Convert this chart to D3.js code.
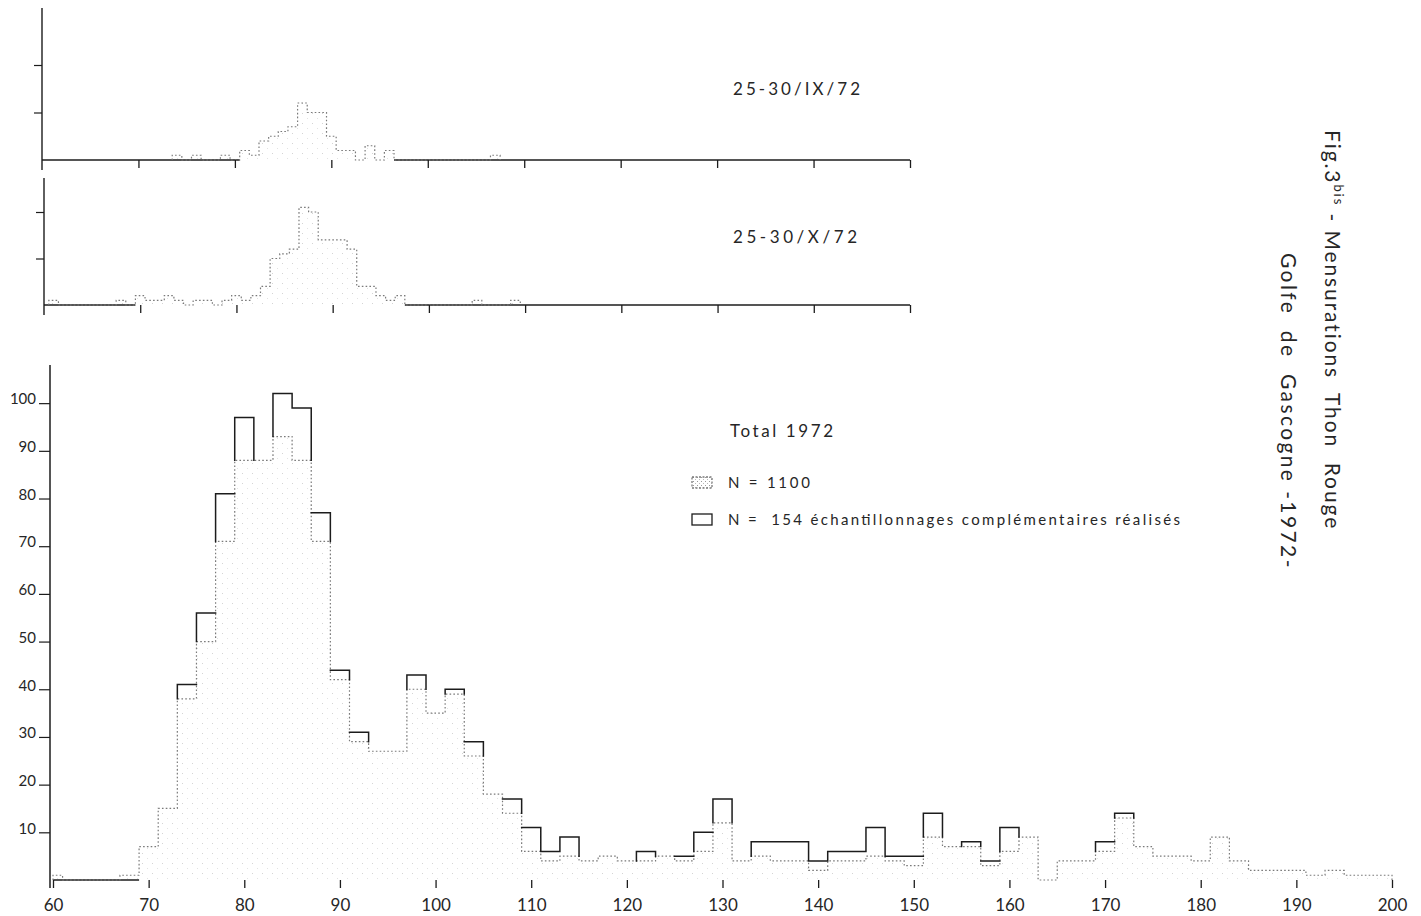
<!DOCTYPE html>
<html>
<head>
<meta charset="utf-8">
<script src="https://cdn.jsdelivr.net/npm/d3@7"></script>
<style>
  html, body { margin: 0; padding: 0; background: #fff; }
  svg { display: block; }
  text { font-family: Lato, "DejaVu Sans", sans-serif; fill: #262626; white-space: pre; }
</style>
</head>
<body>
<svg id="fig" width="1421" height="916"></svg>
<script>
// ---- Total 1972: 2 cm length classes (class centre, cm) ----
const totalClasses = d3.range(60, 201, 2);
// main sample, N = 1100 (stippled)
const countsN1100 = [1, 0, 0, 0, 1, 7, 15, 38, 50, 71, 88, 88, 93, 88, 71, 42, 29, 27, 27, 40,
                     35, 39, 26, 18, 14, 6, 4, 5, 4, 5, 4, 4, 5, 4, 6, 12, 4, 5, 4, 4,
                     2, 4, 4, 5, 4, 3, 9, 7, 7, 3, 6, 9, 0, 4, 4, 6, 13, 7, 5, 5,
                     4, 9, 4, 2, 2, 2, 1, 2, 1, 1, 1];
// complementary samplings, N = 154 (open, stacked on top)
const countsN154 = [0, 0, 0, 0, 0, 0, 0, 3, 6, 10, 9, 0, 9, 11, 6, 2, 2, 0, 0, 3,
                    0, 1, 3, 0, 3, 5, 2, 4, 0, 0, 0, 2, 0, 1, 4, 5, 0, 3, 4, 4,
                    2, 2, 2, 6, 1, 2, 5, 0, 1, 1, 5, 0, 0, 0, 0, 2, 1, 0, 0, 0,
                    0, 0, 0, 0, 0, 0, 0, 0, 0, 0, 0];

// ---- 25-30/IX/72: 1 cm classes ----
const classesIX = [74, 76, 79, 81, 82, 83, 84, 85, 86, 87, 88, 89, 90, 91, 92, 94, 96, 107];
const countsIX  = [1, 1, 1, 2, 1, 4, 5, 6, 7, 12, 10, 10, 5, 2, 2, 3, 2, 1];

// ---- 25-30/X/72: 1 cm classes ----
const classesX = [61, 68, 70, 71, 72, 73, 74, 76, 77, 79, 80, 81, 82, 83, 84, 85, 86, 87, 88,
                  89, 90, 91, 92, 93, 94, 95, 96, 97, 105, 109];
const countsX  = [1, 1, 2, 1, 1, 2, 1, 1, 1, 1, 2, 1, 2, 4, 10, 11, 12, 21, 20,
                  14, 14, 14, 12, 4, 4, 2, 1, 2, 1, 1];

// axis ticks
const mainTicksX = d3.range(60, 201, 10);
const mainTicksY = d3.range(10, 101, 10);
const panelTicksX = d3.range(60, 151, 10);
const panelTicksY = [10, 20];

const svg = d3.select("#fig");
const INK = "#1c1c1c";
const GREY = "#7a7a7a";

// sparse stipple used for the N = 1100 histograms
const defs = svg.append("defs");
const pat = defs.append("pattern")
  .attr("id", "stipple").attr("patternUnits", "userSpaceOnUse")
  .attr("width", 10).attr("height", 10);
pat.append("rect").attr("x", 2).attr("y", 3).attr("width", 1).attr("height", 1).attr("fill", "#d4d4d4");
pat.append("rect").attr("x", 7).attr("y", 8).attr("width", 1).attr("height", 1).attr("fill", "#e2e2e2");
// denser stipple for the legend swatch
const pat2 = defs.append("pattern")
  .attr("id", "stippleKey").attr("patternUnits", "userSpaceOnUse")
  .attr("width", 4).attr("height", 4);
pat2.append("rect").attr("x", 1).attr("y", 1).attr("width", 1).attr("height", 1).attr("fill", "#999");
pat2.append("rect").attr("x", 3).attr("y", 3).attr("width", 1).attr("height", 1).attr("fill", "#bbb");

// bins -> outline points of a step histogram
function stepPoints(bins) {
  const pts = [];
  bins.forEach((b, i) => {
    const prev = bins[i - 1];
    if (!prev) pts.push([b.x0, 0]);
    else if (prev.x1 !== b.x0) { pts.push([prev.x1, 0]); pts.push([b.x0, 0]); }
    pts.push([b.x0, b.v]); pts.push([b.x1, b.v]);
  });
  pts.push([bins[bins.length - 1].x1, 0]);
  return pts;
}

// stippled histogram with dotted outline, plus baseline (solid outside the bulk of the data)
function drawShaded(g, bins, x, y, domain, endMin) {
  const line = d3.line().x(d => x(d[0])).y(d => y(d[1]));
  const pts = stepPoints(bins);
  g.append("path").attr("d", line(pts) + "Z")
    .attr("fill", "url(#stipple)").attr("stroke", "none");
  // baseline
  const first = bins.find(b => b.v >= 2);
  const last = bins.filter(b => b.v >= endMin).pop();
  const a = first.x0, b = last.x1;
  g.append("line").attr("x1", x(domain[0])).attr("x2", x(a)).attr("y1", y(0)).attr("y2", y(0))
    .attr("stroke", INK).attr("stroke-width", 1.3);
  if (b < domain[1]) {
    g.append("line").attr("x1", x(b)).attr("x2", x(domain[1])).attr("y1", y(0)).attr("y2", y(0))
      .attr("stroke", INK).attr("stroke-width", 1.3);
  }
  g.append("path").attr("d", line(pts))
    .attr("fill", "none").attr("stroke", GREY).attr("stroke-width", 1.2)
    .attr("stroke-dasharray", "1.6 2.2");
}

// ---------- small panels ----------
function panel(opts) {
  const x = d3.scaleLinear().domain([60, 150]).range(opts.xr);
  const y = d3.scaleLinear().domain([0, opts.ymax]).range([opts.base, opts.top]);
  const g = svg.append("g");
  const bins = opts.classes.map((c, i) => ({ x0: c - 0.5, x1: c + 0.5, v: opts.counts[i] }));
  drawShaded(g, bins, x, y, [60, 150], 2);

  // vertical axis, running a little below the baseline
  g.append("line").attr("x1", x(60)).attr("x2", x(60))
    .attr("y1", opts.top).attr("y2", opts.base + 10)
    .attr("stroke", INK).attr("stroke-width", 1.4);
  const ya = g.append("g").attr("transform", `translate(${x(60)},0)`)
    .call(d3.axisLeft(y).tickValues(panelTicksY).tickSize(8).tickFormat(""));
  ya.select(".domain").remove();
  ya.selectAll("line").attr("stroke", INK).attr("stroke-width", 1.2);

  const xa = g.append("g").attr("transform", `translate(0,${opts.base})`)
    .call(d3.axisBottom(x).tickValues(panelTicksX.slice(1)).tickSize(8).tickFormat(""));
  xa.select(".domain").remove();
  xa.selectAll("line").attr("stroke", INK).attr("stroke-width", 1.3);

  g.append("text").attr("x", opts.labelX).attr("y", opts.labelY)
    .attr("font-size", 17).attr("textLength", opts.labelW).attr("lengthAdjust", "spacing")
    .text(opts.label);
}

panel({ xr: [42, 910], base: 160, top: 8, ymax: (160 - 8) / 4.75,
        classes: classesIX, counts: countsIX,
        label: "25-30/IX/72", labelX: 733, labelY: 95, labelW: 127 });
panel({ xr: [44, 910], base: 305, top: 178, ymax: (305 - 178) / 4.65,
        classes: classesX, counts: countsX,
        label: "25-30/X/72", labelX: 733, labelY: 243, labelW: 124 });

// ---------- Total 1972 ----------
const x = d3.scaleLinear().domain([60, 200]).range([53, 1392]);
const y = d3.scaleLinear().domain([0, 108]).range([880, 365]);
const gm = svg.append("g");

const bins = totalClasses.map((c, i) => ({
  x0: Math.max(60, c - 1), x1: Math.min(200, c + 1),
  s: countsN1100[i], e: countsN154[i], v: countsN1100[i], t: countsN1100[i] + countsN154[i]
}));
drawShaded(gm, bins, x, y, [60, 200], 1);

// open part (N = 154): tops of stacked classes, and the parts of the class edges
// that are not already traced by the stippled outline
const segs = [];
bins.forEach(b => { if (b.e > 0) segs.push([[b.x0, b.t], [b.x1, b.t]]); });
for (let i = 0; i <= bins.length; i++) {
  const L = bins[i - 1], R = bins[i];
  const xb = R ? R.x0 : L.x1;
  const tL = L ? L.t : 0, tR = R ? R.t : 0, sL = L ? L.s : 0, sR = R ? R.s : 0;
  const T = [Math.min(tL, tR), Math.max(tL, tR)], S = [Math.min(sL, sR), Math.max(sL, sR)];
  if (T[0] < S[0]) { const hi = Math.min(T[1], S[0]); if (hi > T[0]) segs.push([[xb, T[0]], [xb, hi]]); }
  if (T[1] > S[1]) { const lo = Math.max(T[0], S[1]); if (T[1] > lo) segs.push([[xb, lo], [xb, T[1]]]); }
}
const segLine = d3.line().x(d => x(d[0])).y(d => y(d[1]));
gm.append("path")
  .attr("d", segs.map(s => segLine(s)).join(""))
  .attr("fill", "none").attr("stroke", INK).attr("stroke-width", 1.5)
  .attr("stroke-linecap", "square");

// axes
gm.append("line").attr("x1", x(60) - 3).attr("x2", x(60) - 3).attr("y1", 365).attr("y2", y(0) + 8)
  .attr("stroke", INK).attr("stroke-width", 1.5);
const yAxis = gm.append("g").attr("transform", `translate(${x(60) - 3},0)`)
  .call(d3.axisLeft(y).tickValues(mainTicksY).tickSize(11).tickPadding(3));
yAxis.select(".domain").remove();
yAxis.selectAll("line").attr("stroke", INK).attr("stroke-width", 1.2);
yAxis.selectAll("text").attr("font-size", 15).attr("dy", "0.05em")
  .attr("fill", "#2a2a2a").style("font-family", "Lato, 'DejaVu Sans', sans-serif");

const xAxis = gm.append("g").attr("transform", `translate(0,${y(0)})`)
  .call(d3.axisBottom(x).tickValues(mainTicksX).tickSize(8).tickPadding(11));
xAxis.select(".domain").remove();
xAxis.selectAll("line").attr("stroke", INK).attr("stroke-width", 1.3);
xAxis.selectAll("text").attr("font-size", 17).attr("fill", "#2a2a2a")
  .style("font-family", "Lato, 'DejaVu Sans', sans-serif");

// title and legend
gm.append("text").attr("x", 730).attr("y", 437).attr("font-size", 17)
  .attr("textLength", 103).attr("lengthAdjust", "spacing").text("Total 1972");

gm.append("rect").attr("x", 692).attr("y", 477).attr("width", 20).attr("height", 11)
  .attr("fill", "url(#stippleKey)").attr("stroke", GREY).attr("stroke-width", 1.3)
  .attr("stroke-dasharray", "2 1.5");
gm.append("text").attr("x", 728).attr("y", 488).attr("font-size", 15)
  .attr("textLength", 82).attr("lengthAdjust", "spacing").text("N = 1100");

gm.append("rect").attr("x", 692).attr("y", 514).attr("width", 20).attr("height", 11)
  .attr("fill", "none").attr("stroke", INK).attr("stroke-width", 1.3);
gm.append("text").attr("x", 728).attr("y", 525).attr("font-size", 15)
  .attr("textLength", 452).attr("lengthAdjust", "spacing")
  .text("N =  154 échantillonnages complémentaires réalisés");

// figure caption, set vertically along the right margin
const cap1 = svg.append("text").attr("transform", "translate(1325,130) rotate(90)")
  .attr("font-size", 21).attr("letter-spacing", 1.9);
cap1.append("tspan").text("Fig.3");
cap1.append("tspan").attr("font-size", 13).attr("dy", -9).text("bis");
cap1.append("tspan").attr("dy", 9).text(" - Mensurations  Thon  Rouge");

svg.append("text").attr("transform", "translate(1281,253) rotate(90)")
  .attr("font-size", 21).attr("letter-spacing", 2.4)
  .text("Golfe  de  Gascogne -1972-");
</script>
</body>
</html>
